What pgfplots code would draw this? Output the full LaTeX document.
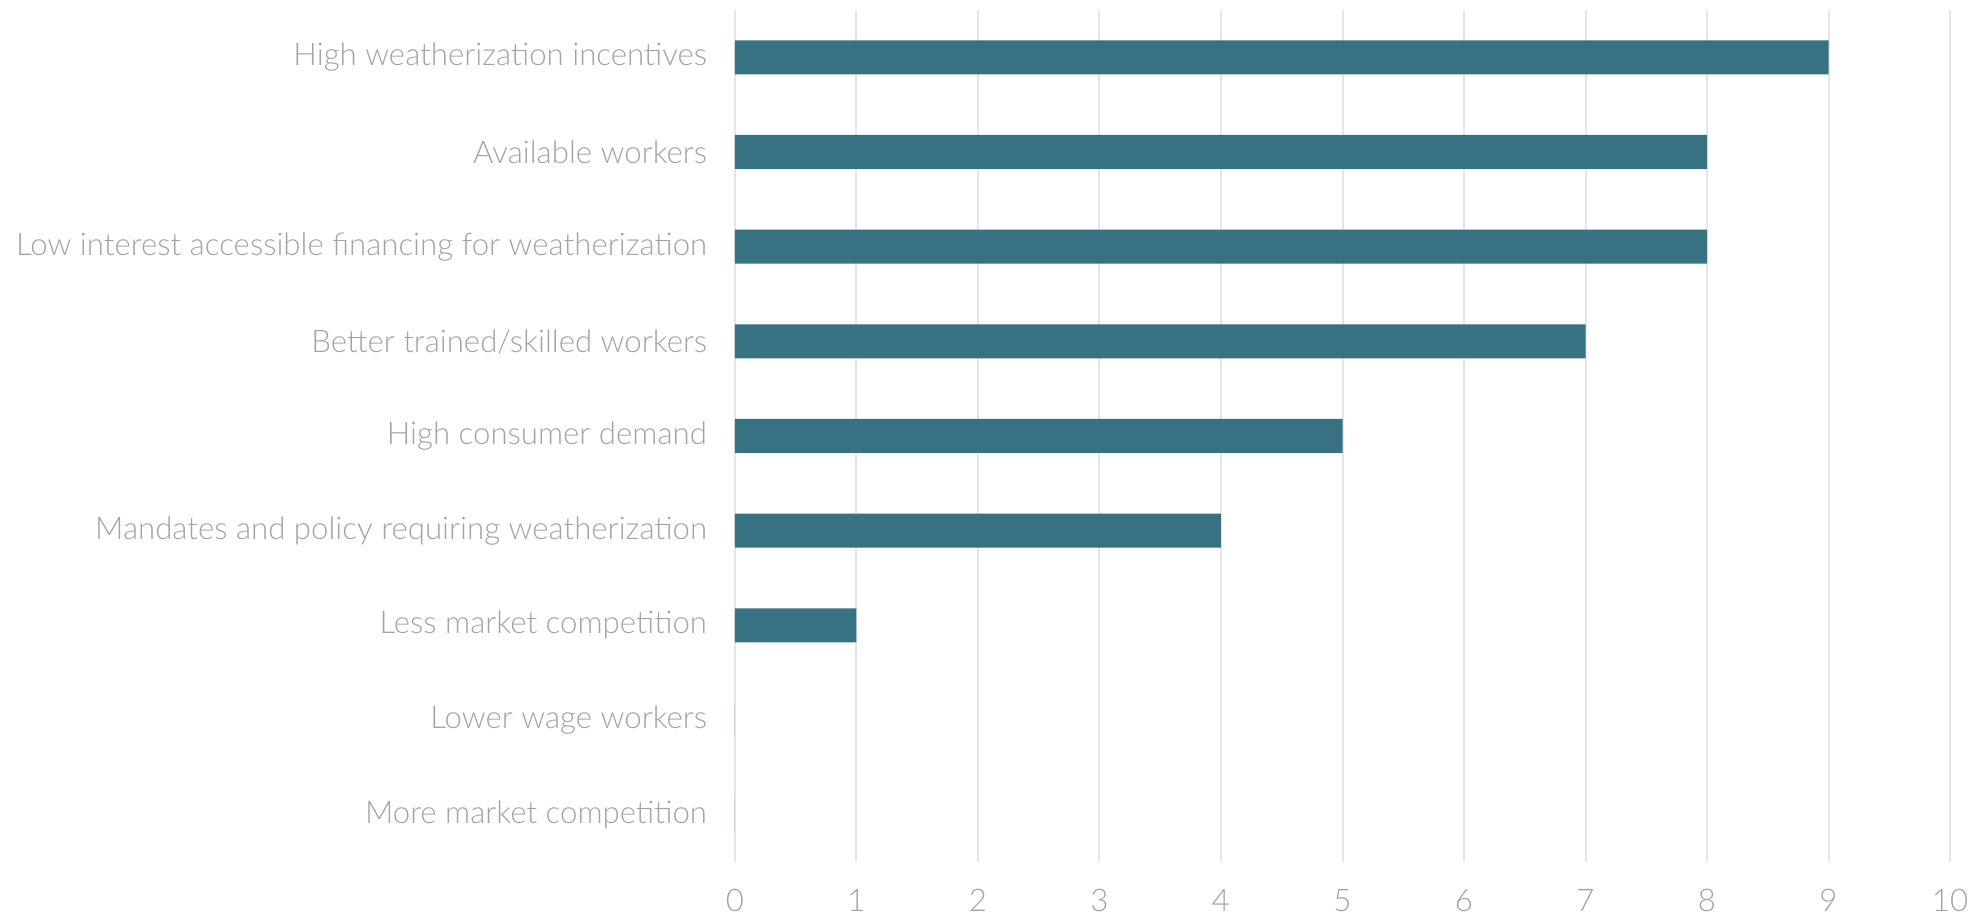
\documentclass[border=0pt]{standalone}
\usepackage{fontspec}
\setmainfont{Lato Light}
\usepackage{pgfplots}
\pgfplotsset{compat=1.18}
\definecolor{barc}{HTML}{367282}
\definecolor{txt}{HTML}{A3A3A3}
\definecolor{gridc}{HTML}{E6E6E6}
\begin{document}
\begin{tikzpicture}[x=0.5pt,y=0.5pt]
\path[use as bounding box] (-735,-53) rectangle (1244,862);
\begin{axis}[
  at={(0,0)}, anchor=south west,
  scale only axis,
  width=607.5pt, height=426pt,
  xbar, bar width=17pt,
  xmin=0, xmax=10, ymin=-0.5, ymax=8.5,
  xtick={0,...,10},
  ytick={0,...,8},
  yticklabels={More market competition,Lower wage workers,Less market competition,Mandates and policy requiring weatherization,High consumer demand,Better trained/skilled workers,Low interest accessible financing for weatherization,Available workers,High weatherization incentives},
  axis line style={draw=none},
  xmajorgrids, major grid style={gridc, line width=1pt},
  major tick length=0pt,
  tick style={draw=none},
  xticklabel style={font=\fontsize{15.6}{18}\selectfont, text=txt, yshift=-10pt},
  yticklabel style={font=\fontsize{15.6}{18}\selectfont, text=txt, xshift=-10.5pt},
  /pgf/number format/assume math mode=true,
  clip=false,
]
\addplot[fill=barc, draw=none] coordinates {(0,0) (0,1) (1,2) (4,3) (5,4) (7,5) (8,6) (8,7) (9,8)};
\end{axis}
\end{tikzpicture}
\end{document}
